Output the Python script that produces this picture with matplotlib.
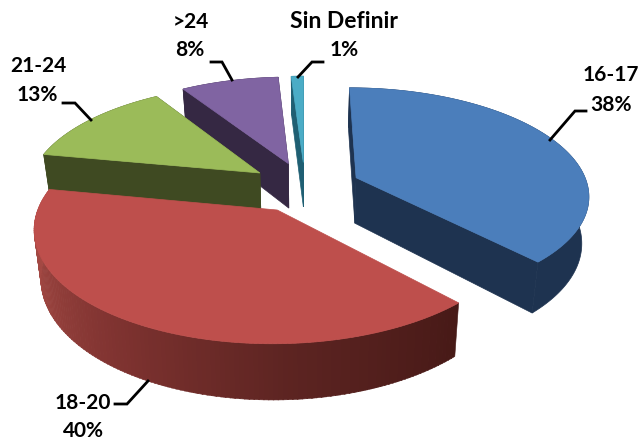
import numpy as np
import matplotlib
matplotlib.use("Agg")
import matplotlib.pyplot as plt
from matplotlib.patches import Polygon

categorias = ["16-17", "18-20", "21-24", ">24", "Sin Definir"]
valores = [38, 40, 13, 8, 1]

cor_topo = ["#4B7EBB", "#BE4F4C", "#9BBB59", "#8064A2", "#4BACC6"]
cor_parede = ["#1E3350", "#BE4F4C", "#3F4A22", "#352843", "#1F5F73"]

# pontos de cor da parede vermelha (angulo, rgb)
grad_ang = [137, 175, 215, 255, 281]
grad_cor = [(0.28, 0.10, 0.09), (0.36, 0.14, 0.13), (0.50, 0.20, 0.19),
            (0.63, 0.28, 0.26), (0.68, 0.30, 0.28)]

# posicao dos textos e das linhas guia (em pixels)
pos_nome = [(611, 75), (83, 403), (38, 66), (191, 22), (344, 22)]
pos_pct = [(611, 105), (83, 431), (37, 95), (190, 50), (344, 50)]
tam_nome = [15, 15, 15, 15, 16.5]
guias = [
    [(550, 140), (575, 111), (586, 111)],
    [(148, 381), (127, 404), (115, 404)],
    [(91, 120), (75, 103), (63, 103)],
    [(232, 80), (222, 62), (211, 62)],
    [(298, 77), (312, 62), (323, 62)],
]

# parametros da projecao
CX, CY = 305, 187
RX, RY = 232, 106
K = 0.15
EXPLODE = 0.24
ALTURA = 46
ENCOLHE = 0.025  # a base fica um pouco mais estreita que o topo


def projeta(gx, gy, z=0):
    # perspectiva simples: mais perto do observador = maior
    p = 1 / (1 - K * gy)
    return CX + RX * gx * p * (1 - ENCOLHE * z), CY + RY * gy * p + z * ALTURA * p


def arco(ini, fim, dx, dy, z=0):
    t = np.radians(np.linspace(ini, fim, max(int(fim - ini) * 2, 4)))
    return [projeta(dx + np.sin(a), dy - np.cos(a), z) for a in t]


def cor_vermelha(ang):
    return [np.interp(ang, grad_ang, [c[i] for c in grad_cor]) for i in range(3)]


def desenha_fatia(ax, ini, fim, topo, parede, gradiente):
    meio = np.radians((ini + fim) / 2)
    dx, dy = EXPLODE * np.sin(meio), -EXPLODE * np.cos(meio)

    centro = projeta(dx, dy)
    centro_b = projeta(dx, dy, 1)

    # paredes dos cortes
    if not gradiente:
        for ang in (ini, fim):
            a = arco(ang, ang + 0.001, dx, dy)[0]
            b = arco(ang, ang + 0.001, dx, dy, 1)[0]
            ax.add_patch(Polygon([centro, a, b, centro_b], fc=parede, ec=parede, lw=0.5))

    # parede externa
    if gradiente:
        angs = np.arange(ini, fim, 1.0)
        for a0 in angs:
            cima = arco(a0, a0 + 1.2, dx, dy)
            baixo = arco(a0, a0 + 1.2, dx, dy, 1)
            c = cor_vermelha(a0)
            ax.add_patch(Polygon(cima + baixo[::-1], fc=c, ec=c, lw=0.4))
    else:
        cima = arco(ini, fim, dx, dy)
        baixo = arco(ini, fim, dx, dy, 1)
        ax.add_patch(Polygon(cima + baixo[::-1], fc=parede, ec=parede, lw=0.5))

    # topo
    ax.add_patch(Polygon([centro] + arco(ini, fim, dx, dy), fc=topo, ec=topo, lw=0.5))


plt.rcParams["font.family"] = ["Lato", "DejaVu Sans"]
fig = plt.figure(figsize=(6.39, 4.40), dpi=100)
ax = fig.add_axes([0, 0, 1, 1])
ax.set_xlim(0, 639)
ax.set_ylim(440, 0)
ax.axis("off")

limites = np.cumsum([0] + valores) / sum(valores) * 360

# de tras para frente
for i in [4, 3, 2, 0, 1]:
    desenha_fatia(ax, limites[i], limites[i + 1], cor_topo[i], cor_parede[i], i == 1)

for i in range(len(valores)):
    ax.text(*pos_nome[i], categorias[i], ha="center", va="center",
            fontsize=tam_nome[i], fontweight="bold", color="black")
    ax.text(*pos_pct[i], f"{valores[i]}%", ha="center", va="center",
            fontsize=15, fontweight="bold", color="black")
    xs, ys = zip(*guias[i])
    ax.plot(xs, ys, color="black", lw=2, solid_joinstyle="miter")

fig.savefig("out.png", dpi=100)
